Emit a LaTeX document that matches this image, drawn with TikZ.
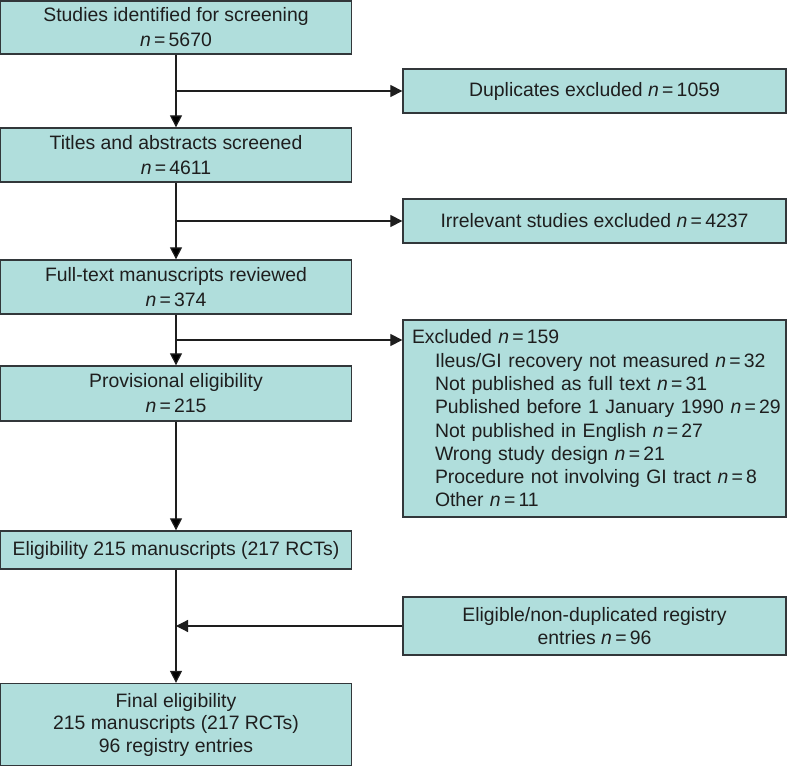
\documentclass[tikz,border=0pt]{standalone}
\usepackage{fontspec}
\setmainfont{Liberation Sans}
\usetikzlibrary{arrows.meta}
\definecolor{boxfill}{RGB}{176,222,220}
\definecolor{boxline}{RGB}{50,55,58}
\definecolor{ink}{RGB}{30,30,30}
\newcommand{\nval}[1]{\textit{n}\,=\,#1}

\begin{document}
\begin{tikzpicture}[x=1pt, y=-1pt,
    box/.style={draw=boxline, fill=boxfill, line width=1.3pt, inner sep=0pt,
        align=center, text=ink, font=\fontsize{19.4}{25}\selectfont},
    mainbox/.style={box, minimum width=351pt},
    sidebox/.style={box, minimum width=383pt},
    link/.style={draw=ink, line width=1.2pt, -{Triangle[length=12pt, width=12pt]}}]
    \useasboundingbox (0,0) rectangle (787,767);

    \node[mainbox, minimum height=53pt] at (176,27.5)(ident){Studies identified for screening\\\nval{5670}};
    \node[mainbox, minimum height=54pt] at (176,155)(screen){Titles and abstracts screened\\\nval{4611}};
    \node[mainbox, minimum height=54pt] at (176,287)(full){Full-text manuscripts reviewed\\\nval{374}};
    \node[mainbox, minimum height=55pt] at (176,393.5)(prov){Provisional eligibility\\\nval{215}};
    \node[mainbox, minimum height=38pt] at (176,550)(elig){Eligibility 215 manuscripts (217 RCTs)};
    \node[mainbox, minimum height=82pt, font=\fontsize{19.4}{22.5}\selectfont] at (176,724.5)(final){Final eligibility\\215 manuscripts (217 RCTs)\\96 registry entries};

    \node[sidebox, minimum height=44pt] at (594.5,91)(dup){Duplicates excluded \nval{1059}};
    \node[sidebox, minimum height=44pt] at (594.5,221)(irr){Irrelevant studies excluded \nval{4237}};
    \node[sidebox, minimum height=197pt, text width=373pt, inner xsep=5pt, align=left,
        font=\fontsize{19.4}{23.3}\selectfont] at (594.5,418.5)(excl){\hspace*{4pt}Excluded \nval{159}\\
        \hspace*{27pt}Ileus/GI recovery not measured \nval{32}\\
        \hspace*{27pt}Not published as full text \nval{31}\\
        \hspace*{27pt}Published before 1 January 1990 \nval{29}\\
        \hspace*{27pt}Not published in English \nval{27}\\
        \hspace*{27pt}Wrong study design \nval{21}\\
        \hspace*{27pt}Procedure not involving GI tract \nval{8}\\
        \hspace*{27pt}Other \nval{11}};
    \node[sidebox, minimum height=58pt, font=\fontsize{19.4}{22.5}\selectfont] at (594.5,626)(reg){Eligible/non-duplicated registry\\entries \nval{96}};

    \coordinate (j1) at (ident.south |- dup);
    \coordinate (j2) at (screen.south |- irr);
    \coordinate (j3) at (full.south |- 0,340);
    \coordinate (j4) at (elig.south |- reg);

    \path[link]
        (ident)edge(screen)
        (screen)edge(full)
        (full)edge(prov)
        (prov)edge(elig)
        (elig)edge(final)
        ;
    \draw[link] (j1)--(dup);
    \draw[link] (j2)--(irr);
    \draw[link] (j3)--(j3 -| excl.west);
    \draw[link] (reg)--(j4);
\end{tikzpicture}
\end{document}
